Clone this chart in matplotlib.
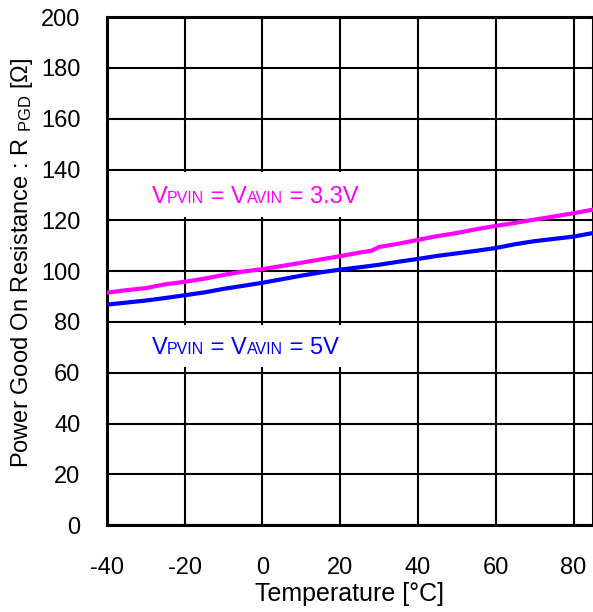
import matplotlib
matplotlib.use("Agg")
import matplotlib.pyplot as plt
from matplotlib.offsetbox import TextArea, HPacker, AnnotationBbox
from matplotlib.patches import Rectangle

plt.rcParams["font.family"] = ["Liberation Sans", "DejaVu Sans"]
plt.rcParams["axes.unicode_minus"] = False

# temperature [°C]
temps = [-40, -35, -30, -25, -20, -15, -10, -5, 0, 5, 10, 15, 20, 25,
         28, 30, 35, 40, 45, 50, 55, 60, 65, 70, 75, 80, 85]
# VPVIN = VAVIN = 3.3V
r_33 = [91.5, 92.5, 93.3, 94.8, 95.8, 97.0, 98.5, 99.8, 100.8, 102.0, 103.3,
        104.6, 105.9, 107.3, 108.0, 109.5, 110.8, 112.3, 113.8, 115.0, 116.5,
        117.8, 119.0, 120.3, 121.5, 122.8, 124.2]
# VPVIN = VAVIN = 5V
r_5 = [86.8, 87.6, 88.4, 89.4, 90.5, 91.6, 93.0, 94.2, 95.4, 96.8, 98.2,
       99.5, 100.6, 101.5, 102.1, 102.5, 103.7, 104.8, 106.0, 107.0, 108.0,
       109.1, 110.6, 111.8, 112.7, 113.6, 115.0]

x_ticks = [-40, -20, 0, 20, 40, 60, 80]
y_ticks = list(range(0, 201, 20))

fig = plt.figure(figsize=(5.93, 6.12), dpi=100)
ax = fig.add_axes([0.180, 0.142, 0.820, 0.830])

ax.plot(temps, r_33, color="#FF00FF", lw=3.0, zorder=4)
ax.plot(temps, r_5, color="#0000FF", lw=3.0, zorder=4)

ax.set_xlim(-40, 85)
ax.set_ylim(0, 200)
ax.set_xticks(x_ticks)
ax.set_yticks(y_ticks)
ax.tick_params(length=0, labelsize=17)
ax.tick_params(axis="x", pad=23)
ax.tick_params(axis="y", pad=19)
ax.grid(True, color="black", lw=1.5)
ax.set_axisbelow(True)
for s in ax.spines.values():
    s.set_linewidth(2.2)

ax.set_xlabel("Temperature [°C]", fontsize=18, labelpad=2)
ax.set_ylabel(r"Power Good On Resistance : R $\mathregular{_{PGD}}$ [Ω]",
              fontsize=17)
ax.yaxis.set_label_coords(-0.148, 0.516)


def label(x, y, value, color, box):
    ax.add_patch(Rectangle((box[0], box[1]), box[2], box[3],
                           transform=ax.transAxes, facecolor="white",
                           edgecolor="none", zorder=2))
    big = dict(fontsize=17, color=color)
    small = dict(fontsize=11.5, color=color)
    parts = [TextArea("V", textprops=big), TextArea("PVIN", textprops=small),
             TextArea(" = V", textprops=big), TextArea("AVIN", textprops=small),
             TextArea(" = " + value, textprops=big)]
    pack = HPacker(children=parts, align="baseline", pad=0, sep=0)
    ab = AnnotationBbox(pack, (x, y), xycoords="axes fraction",
                        box_alignment=(0, 0.5), frameon=False, zorder=3)
    ax.add_artist(ab)


label(0.092, 0.646, "3.3V", "#FF00FF", (0.0, 0.606, 0.54, 0.089))
label(0.092, 0.348, "5V", "#0000FF", (0.051, 0.311, 0.489, 0.083))

fig.savefig("out.png", dpi=100)
